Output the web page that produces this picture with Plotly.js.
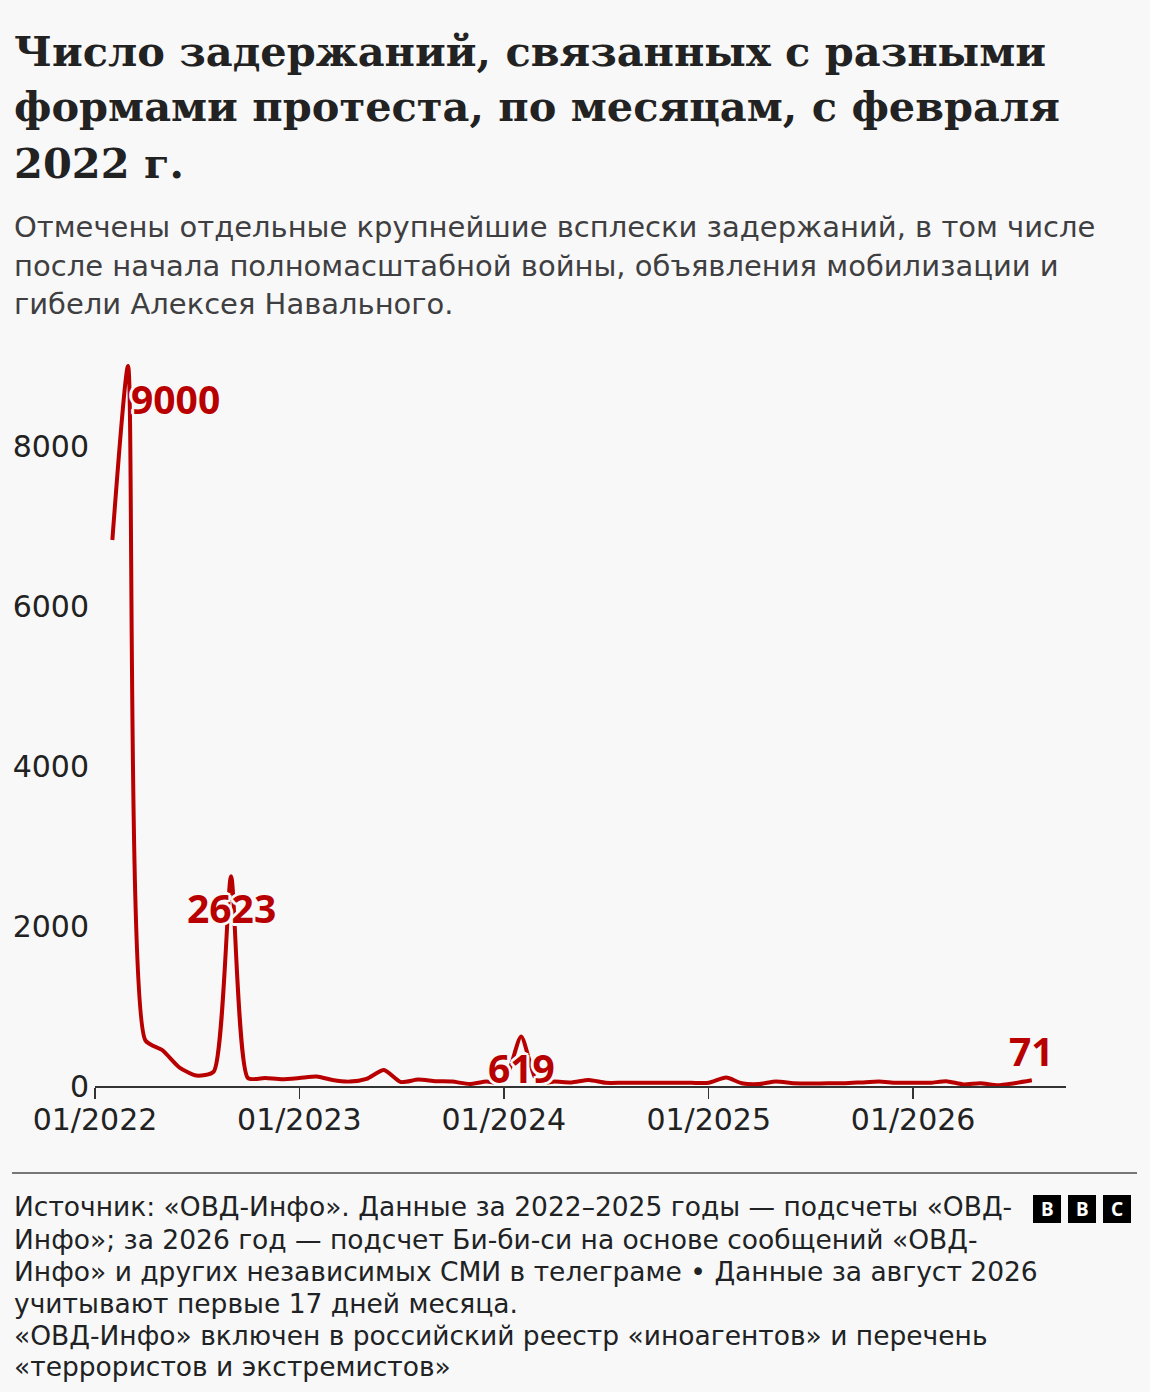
<!DOCTYPE html>
<html>
<head>
<meta charset="utf-8">
<script src="https://cdn.plot.ly/plotly-3.0.1.min.js"></script>
<style>
html,body{margin:0;padding:0;background:#f8f8f8;}
#chart{width:1150px;height:1392px;}
</style>
</head>
<body>
<div id="chart"></div>
<script>
// ---------- DATA ----------
const months = [
  '2022-02-01','2022-03-01','2022-04-01','2022-05-01','2022-06-01','2022-07-01','2022-08-01','2022-09-01','2022-10-01','2022-11-01','2022-12-01',
  '2023-01-01','2023-02-01','2023-03-01','2023-04-01','2023-05-01','2023-06-01','2023-07-01','2023-08-01','2023-09-01','2023-10-01','2023-11-01','2023-12-01',
  '2024-01-01','2024-02-01','2024-03-01','2024-04-01','2024-05-01','2024-06-01','2024-07-01','2024-08-01','2024-09-01','2024-10-01','2024-11-01','2024-12-01',
  '2025-01-01','2025-02-01','2025-03-01','2025-04-01','2025-05-01','2025-06-01','2025-07-01','2025-08-01','2025-09-01','2025-10-01','2025-11-01','2025-12-01',
  '2026-01-01','2026-02-01','2026-03-01','2026-04-01','2026-05-01','2026-06-01','2026-07-01','2026-08-01'
];
const detentions = [
  6825, 9000, 570, 450, 230, 130, 180, 2623, 100, 100, 85,
  100, 120, 75, 55, 90, 200, 50, 80, 60, 55, 25, 55,
  40, 619, 45, 55, 45, 75, 40, 40, 40, 40, 40, 40,
  40, 105, 35, 25, 55, 35, 30, 35, 35, 45, 55, 40,
  40, 40, 60, 20, 35, 10, 35, 71
];
const xTickVals = ['2022-01-01','2023-01-01','2024-01-01','2025-01-01','2026-01-01'];
const xTickText = ['01/2022','01/2023','01/2024','01/2025','01/2026'];
const yTickVals = [0, 2000, 4000, 6000, 8000];
const yTickText = ['0', '2000', '4000', '6000', '8000'];
const labelMonths = ['2022-03-01','2022-09-01','2024-02-01','2026-08-01'];
const labelValues = [9000, 2623, 619, 71];

const titleLines = [
  'Число задержаний, связанных с разными',
  'формами протеста, по месяцам, с февраля',
  '2022 г.'
];
const subtitleLines = [
  'Отмечены отдельные крупнейшие всплески задержаний, в том числе',
  'после начала полномасштабной войны, объявления мобилизации и',
  'гибели Алексея Навального.'
];
const footerLines = [
  'Источник: «ОВД-Инфо». Данные за 2022–2025 годы — подсчеты «ОВД-',
  'Инфо»; за 2026 год — подсчет Би-би-си на основе сообщений «ОВД-',
  'Инфо» и других независимых СМИ в телеграме • Данные за август 2026',
  'учитывают первые 17 дней месяца.',
  '«ОВД-Инфо» включен в российский реестр «иноагентов» и перечень',
  '«террористов и экстремистов»'
];

// ---------- LAYOUT HELPERS ----------
const W = 1150, H = 1392;
const L = 95, R = 1066, T = 350, B = 1086;
const px = x => (x - L) / (R - L);
const py = y => (B - y) / (B - T);
const BG = '#f8f8f8';
const RED = '#b80000';
const SANS = '"Noto Sans", "Open Sans", sans-serif';
const WIDE = '"DejaVu Sans", "Noto Sans", sans-serif';
const SERIF = '"DejaVu Serif", "Liberation Serif", serif';

const halo = [];
for (const [dx, dy] of [[2,0],[-2,0],[0,2],[0,-2],[2,2],[-2,-2],[2,-2],[-2,2],[3,0],[-3,0],[0,3],[0,-3]]) {
  halo.push(dx + 'px ' + dy + 'px 0 ' + BG);
}
const haloStr = halo.join(', ');

const annotations = [];
// title
const titleY = [51, 107, 164];
titleLines.forEach((t, i) => annotations.push({
  xref: 'paper', yref: 'paper', x: px(12), y: py(titleY[i]), xanchor: 'left', yanchor: 'middle',
  text: '<b>' + t + '</b>', showarrow: false,
  font: {family: SERIF, size: 41.5, color: '#222222'}
}));
// subtitle
const subY = [227, 266, 304];
subtitleLines.forEach((t, i) => annotations.push({
  xref: 'paper', yref: 'paper', x: px(12), y: py(subY[i]), xanchor: 'left', yanchor: 'middle',
  text: t, showarrow: false,
  font: {family: WIDE, size: 29, color: '#3f3f42'}
}));
// footer
const footY = [1206, 1239, 1271, 1303, 1335, 1366];
footerLines.forEach((t, i) => annotations.push({
  xref: 'paper', yref: 'paper', x: px(12), y: py(footY[i]), xanchor: 'left', yanchor: 'middle',
  text: t, showarrow: false,
  font: {family: WIDE, size: 26.5, color: '#202224'}
}));
// BBC logo letters
const logoX = [1047, 1082, 1117];
['B', 'B', 'C'].forEach((t, i) => annotations.push({
  xref: 'paper', yref: 'paper', x: px(logoX[i]), y: py(1209), xanchor: 'center', yanchor: 'middle',
  text: '<b>' + t + '</b>', showarrow: false,
  font: {family: SANS, size: 19, color: '#ffffff'}
}));
// data labels
const labelPos = [
  {xanchor: 'left', dx: 129, dy: 398},
  {xanchor: 'center', dx: 231, dy: 907},
  {xanchor: 'center', dx: 521, dy: 1067},
  {xanchor: 'center', dx: 1031, dy: 1050}
];
labelValues.forEach((v, i) => {
  const p = labelPos[i];
  annotations.push({
    xref: 'paper', yref: 'paper', x: px(p.dx), y: py(p.dy), xanchor: p.xanchor, yanchor: 'middle',
    text: '<b>' + String(v) + '</b>', showarrow: false,
    font: {family: SANS, size: 39, color: RED, shadow: haloStr}
  });
});

const shapes = [
  {type: 'line', xref: 'paper', yref: 'paper', x0: px(12), x1: px(1137), y0: py(1173), y1: py(1173),
   line: {color: '#777777', width: 2}},
];
[[1033,1061],[1068,1096],[1103,1131]].forEach(([a, b]) => shapes.push({
  type: 'rect', xref: 'paper', yref: 'paper', x0: px(a), x1: px(b), y0: py(1195), y1: py(1223),
  fillcolor: '#000000', line: {width: 0}, layer: 'below'
}));

const trace = {
  type: 'scatter', mode: 'lines',
  x: months, y: detentions,
  line: {color: RED, width: 4, shape: 'spline', smoothing: 0.6},
  hoverinfo: 'skip'
};

const layout = {
  width: W, height: H,
  margin: {l: L, r: W - R, t: T, b: H - B, pad: 0},
  paper_bgcolor: BG, plot_bgcolor: BG,
  showlegend: false,
  xaxis: {
    type: 'date', range: ['2022-01-01', '2026-10-01'],
    tickmode: 'array', tickvals: xTickVals, ticktext: xTickText,
    ticks: 'outside', ticklen: 11, tickwidth: 1.5, tickcolor: '#333333',
    ticklabelstandoff: -5,
    showline: true, linecolor: '#333333', linewidth: 2,
    showgrid: false, zeroline: false,
    tickfont: {family: WIDE, size: 30, color: '#222222'}
  },
  yaxis: {
    range: [0, 9200],
    tickmode: 'array', tickvals: yTickVals, ticktext: yTickText,
    ticks: '', ticklabelstandoff: 5,
    showline: false, showgrid: false, zeroline: false,
    tickfont: {family: WIDE, size: 30, color: '#222222'}
  },
  annotations: annotations,
  shapes: shapes
};

Plotly.newPlot('chart', [trace], layout, {displayModeBar: false, staticPlot: true});
</script>
</body>
</html>
